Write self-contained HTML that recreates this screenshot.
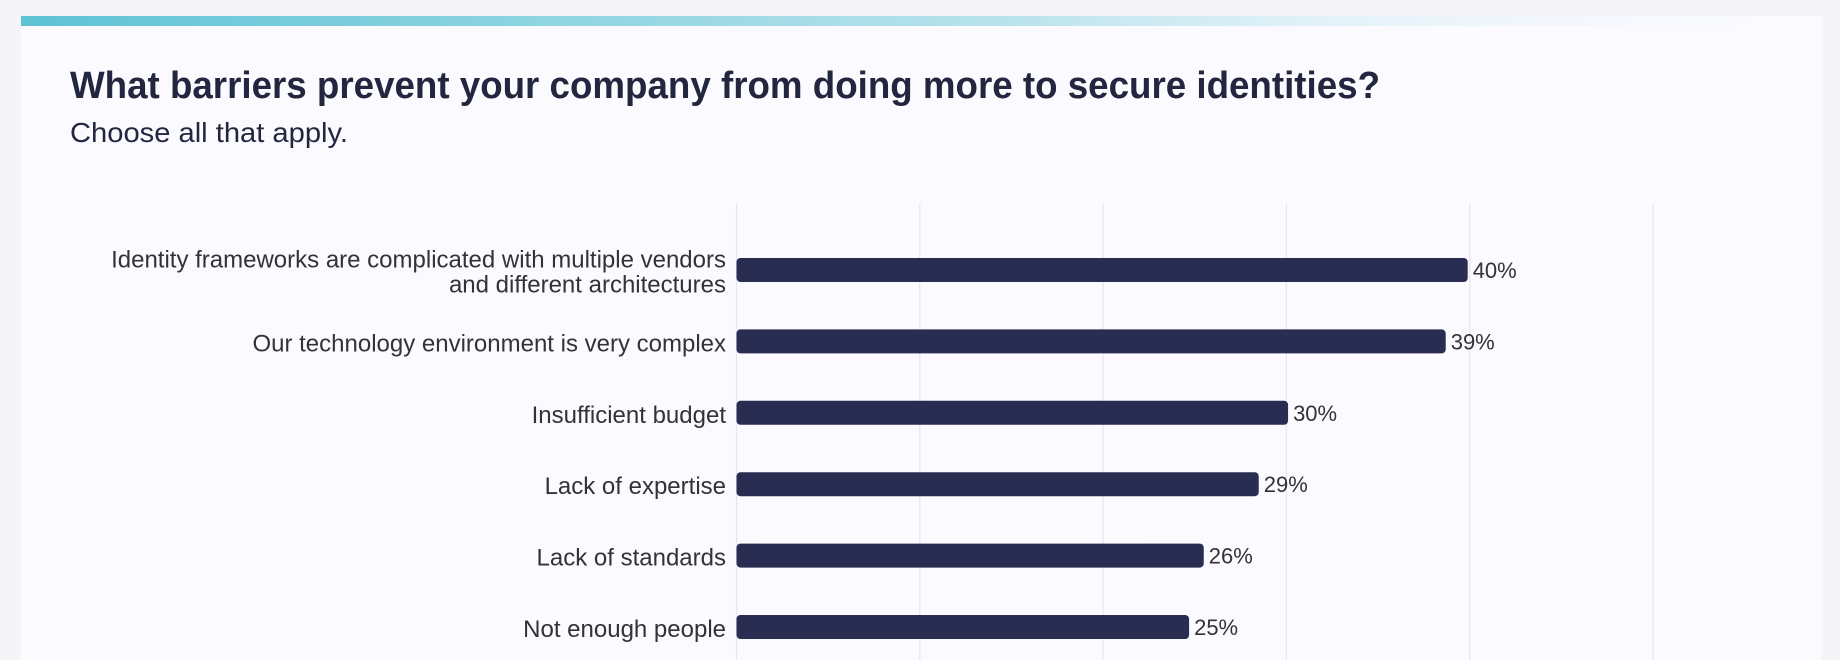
<!DOCTYPE html>
<html><head><meta charset="utf-8"><style>
html,body{margin:0;padding:0;background:#f5f5f7;}
svg{display:block;font-family:"Liberation Sans",sans-serif;}
</style></head><body>
<svg id="chart" width="1840" height="660" viewBox="0 0 1840 660" xmlns="http://www.w3.org/2000/svg">
<defs>
<linearGradient id="topg" x1="0" x2="1" y1="0" y2="0">
<stop offset="0" stop-color="#5ec3d5"/><stop offset="0.55" stop-color="#b9e3ec"/><stop offset="1" stop-color="#fafaff" stop-opacity="0"/>
</linearGradient>
</defs>
<rect x="21" y="16" width="1801" height="660" fill="#fafaff"/>
<rect x="21" y="16" width="1801" height="10" fill="url(#topg)"/>
<text x="70" y="98" font-size="38" font-weight="bold" fill="#23263f" textLength="1310" lengthAdjust="spacingAndGlyphs">What barriers prevent your company from doing more to secure identities?</text>
<text x="70" y="142" font-size="28" fill="#23263f" textLength="278" lengthAdjust="spacingAndGlyphs">Choose all that apply.</text>
<g id="grid"></g>
<g id="bars"></g>
</svg>
<script>
const categories = [
  ["Identity frameworks are complicated with multiple vendors","and different architectures"],
  ["Our technology environment is very complex"],
  ["Insufficient budget"],
  ["Lack of expertise"],
  ["Lack of standards"],
  ["Not enough people"]
];
const values = [40, 38.8, 30.2, 28.6, 25.6, 24.8];
const valueLabels = ["40%","39%","30%","29%","26%","25%"];
const gridTicks = [0, 10, 20, 30, 40, 50];

const NS = "http://www.w3.org/2000/svg";
const x0 = 736.5, pxPer = 18.33;
function xScale(v){ return x0 + v * pxPer; }
const yStart = 270, yStep = 71.4;
function yScale(i){ return yStart + i * yStep; }

const grid = document.getElementById('grid');
gridTicks.forEach(t => {
  const l = document.createElementNS(NS,'line');
  
  
  l.setAttribute('x1', xScale(t)); l.setAttribute('x2', xScale(t));
  l.setAttribute('y1', 203); l.setAttribute('y2', 660);
  l.setAttribute('stroke', '#e6e7f0'); l.setAttribute('stroke-width', '1.2');
  grid.appendChild(l);
});

const bars = document.getElementById('bars');
values.forEach((v, i) => {
  const cy = yScale(i);
  const r = document.createElementNS(NS,'rect');
  
  
  r.setAttribute('x', x0); r.setAttribute('y', cy - 12);
  r.setAttribute('width', xScale(v) - x0 - 2); r.setAttribute('height', 24);
  r.setAttribute('rx', 4); r.setAttribute('fill', '#2a2d52');
  bars.appendChild(r);

  const vt = document.createElementNS(NS,'text');
  
  
  vt.setAttribute('x', xScale(v) + 3); vt.setAttribute('y', cy + 8);
  vt.setAttribute('font-size', '22'); vt.setAttribute('fill', '#333');
  vt.textContent = valueLabels[i];
  bars.appendChild(vt);

  const lines = categories[i];
  const lh = 25;
  const firstBase = cy + 10 - (lines.length - 1) * lh / 2;
  lines.forEach((ln, k) => {
    const ct = document.createElementNS(NS,'text');
    
    
    ct.setAttribute('x', 726); ct.setAttribute('y', firstBase + k * lh);
    ct.setAttribute('text-anchor', 'end');
    ct.setAttribute('font-size', '24'); ct.setAttribute('fill', '#333');
    ct.textContent = ln;
    bars.appendChild(ct);
  });
});
</script>
</body></html>
